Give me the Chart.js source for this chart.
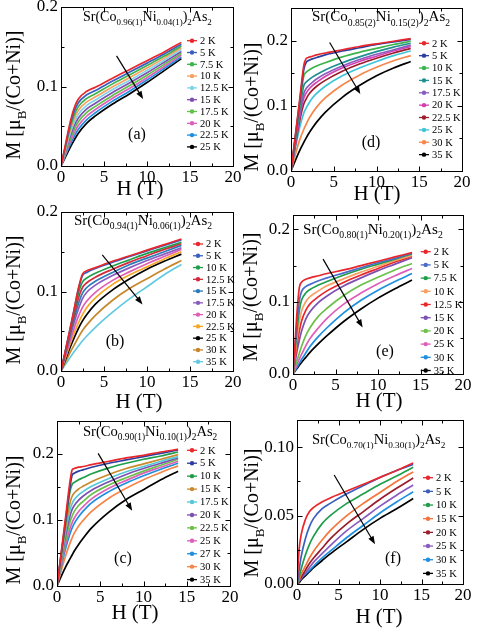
<!DOCTYPE html>
<html>
<head>
<meta charset="utf-8">
<style>
  body { margin: 0; background: #fff; }
  #fig { position: relative; width: 477px; height: 629px; overflow: hidden; }
  #fig canvas { position: absolute; }
</style>
</head>
<body>
<div id="fig">
  <canvas id="pa" width="250" height="205" style="left:0;top:0"></canvas>
  <canvas id="pb" width="250" height="210" style="left:0;top:205px"></canvas>
  <canvas id="pc" width="250" height="214" style="left:0;top:415px"></canvas>
  <canvas id="pd" width="239" height="205" style="left:238px;top:0"></canvas>
  <canvas id="pe" width="239" height="210" style="left:238px;top:205px"></canvas>
  <canvas id="pf" width="239" height="214" style="left:238px;top:415px"></canvas>
</div>

<script src="https://cdn.jsdelivr.net/npm/chart.js"></script>
<script>
// ---- data ----
const xTicks = [0, 5, 10, 15, 20];
const yTicks = [0, 0.1, 0.2];
const yTicksF = [0, 0.05, 0.10];

// (a) x = 0.04
const compA = ['0.96(1)', '0.04(1)'];
const tempsA = ['2 K', '5 K', '7.5 K', '10 K', '12.5 K', '15 K', '17.5 K', '20 K', '22.5 K', '25 K'];
const hA = [0, 0.5, 1, 1.5, 2, 3, 4, 6, 8, 10, 12, 14];
const mA = [
  [0, .026, .052, .072, .084, .094, .099, .1105, .1215, .1325, .1435, .1555],
  [0, .0243, .0487, .0676, .0792, .0896, .095, .1069, .1181, .1294, .1409, .1532],
  [0, .0227, .0453, .0631, .0744, .0851, .091, .1033, .1147, .1264, .1383, .1509],
  [0, .021, .042, .0587, .0697, .0807, .087, .0997, .1113, .1233, .1357, .1487],
  [0, .0193, .0387, .0542, .0649, .0762, .083, .0961, .1079, .1203, .1331, .1464],
  [0, .0177, .0353, .0498, .0601, .0718, .079, .0924, .1046, .1172, .1305, .1441],
  [0, .016, .032, .0453, .0553, .0673, .075, .0888, .1012, .1142, .1278, .1418],
  [0, .0143, .0287, .0409, .0505, .0629, .071, .0852, .0978, .1111, .1252, .1396],
  [0, .0127, .0253, .0364, .0458, .0584, .067, .0816, .0944, .1081, .1226, .1373],
  [0, .011, .022, .032, .041, .054, .063, .078, .091, .105, .120, .135]
];
const arrowA = [6.46, 0.1385, 9.55, 0.0842];

// (b) x = 0.06
const compB = ['0.94(1)', '0.06(1)'];
const tempsB = ['2 K', '5 K', '10 K', '12.5 K', '15 K', '17.5 K', '20 K', '22.5 K', '25 K', '30 K', '35 K'];
const hB = [0, 0.5, 1, 1.5, 2, 2.5, 3, 4, 6, 8, 10, 12, 14];
const mB = [
  [0, .025, .05, .076, .103, .122, .126, .130, .138, .145, .152, .159, .166],
  [0, .025, .05, .076, .102, .120, .124, .129, .137, .144, .151, .158, .165],
  [0, .024, .048, .073, .097, .112, .117, .123, .132, .140, .148, .155, .162],
  [0, .023, .046, .069, .091, .105, .111, .118, .128, .137, .145, .153, .160],
  [0, .022, .044, .065, .084, .098, .105, .113, .124, .134, .142, .150, .158],
  [0, .021, .041, .060, .077, .091, .099, .108, .120, .130, .139, .147, .155],
  [0, .018, .036, .053, .068, .080, .088, .099, .114, .125, .135, .144, .153],
  [0, .016, .032, .047, .060, .071, .080, .092, .109, .121, .131, .141, .150],
  [0, .014, .028, .041, .053, .063, .071, .084, .102, .116, .128, .138, .147],
  [0, .011, .022, .032, .042, .051, .058, .070, .089, .104, .116, .128, .139],
  [0, .008, .016, .024, .031, .038, .044, .055, .074, .091, .106, .121, .134]
];
const arrowB = [4.8, 0.146, 9.48, 0.0838];

// (c) x = 0.10
const compC = ['0.90(1)', '0.10(1)'];
const tempsC = ['2 K', '5 K', '10 K', '15 K', '17.5 K', '20 K', '22.5 K', '25 K', '27 K', '30 K', '35 K'];
const hC = [0, 0.5, 1, 1.5, 1.75, 2, 2.5, 3, 4, 6, 8, 10, 12, 14];
const mC = [
  [0, .052, .105, .158, .176, .178, .180, .181, .184, .189, .194, .198, .203, .207],
  [0, .050, .100, .150, .168, .171, .174, .176, .180, .186, .191, .196, .201, .206],
  [0, .048, .096, .143, .154, .157, .161, .164, .170, .179, .186, .192, .197, .203],
  [0, .045, .090, .126, .136, .141, .147, .151, .158, .169, .178, .185, .192, .199],
  [0, .042, .083, .115, .125, .131, .138, .143, .151, .163, .173, .181, .189, .196],
  [0, .039, .077, .106, .116, .122, .130, .136, .145, .158, .169, .178, .186, .194],
  [0, .036, .070, .097, .106, .113, .122, .128, .139, .153, .164, .174, .183, .192],
  [0, .033, .063, .087, .096, .103, .113, .120, .132, .148, .160, .171, .180, .189],
  [0, .030, .057, .079, .088, .095, .105, .113, .126, .143, .156, .167, .177, .186],
  [0, .024, .046, .065, .073, .080, .091, .099, .113, .133, .148, .161, .172, .182],
  [0, .015, .029, .041, .047, .053, .063, .072, .088, .112, .131, .146, .161, .174]
];
const arrowC = [4.75, 0.201, 8.69, 0.114];

// (d) x = 0.15
const compD = ['0.85(2)', '0.15(2)'];
const tempsD = ['2 K', '5 K', '10 K', '15 K', '17.5 K', '20 K', '22.5 K', '25 K', '30 K', '35 K'];
const hD = [0, 0.5, 1, 1.5, 1.75, 2, 2.5, 3, 4, 6, 8, 10, 12, 14];
const mD = [
  [0, .054, .108, .162, .172, .174, .176, .178, .181, .186, .191, .195, .199, .203],
  [0, .052, .104, .156, .166, .169, .172, .174, .178, .184, .189, .194, .198, .202],
  [0, .050, .100, .146, .151, .154, .158, .161, .166, .175, .182, .188, .194, .199],
  [0, .047, .094, .131, .136, .139, .144, .148, .155, .166, .175, .183, .190, .196],
  [0, .044, .087, .119, .126, .130, .136, .141, .149, .161, .171, .179, .186, .193],
  [0, .042, .082, .112, .119, .124, .131, .136, .145, .158, .168, .176, .184, .191],
  [0, .039, .076, .103, .110, .116, .124, .130, .139, .153, .164, .173, .181, .188],
  [0, .034, .066, .089, .096, .102, .112, .119, .130, .146, .158, .168, .177, .184],
  [0, .025, .047, .064, .071, .078, .089, .098, .112, .132, .147, .159, .169, .177],
  [0, .016, .031, .044, .050, .056, .066, .075, .090, .113, .131, .146, .158, .168]
];
const arrowD = [4.52, 0.197, 8.11, 0.118];

// (e) x = 0.20
const compE = ['0.80(1)', '0.20(1)'];
const tempsE = ['2 K', '5 K', '7.5 K', '10 K', '12.5 K', '15 K', '20 K', '25 K', '30 K', '35 K'];
const hE = [0, 0.25, 0.5, 0.75, 1, 1.5, 2, 3, 4, 6, 8, 10, 12, 14];
const mE = [
  [0, .045, .090, .120, .127, .131, .133, .136, .139, .144, .150, .156, .162, .168],
  [0, .038, .075, .102, .114, .121, .124, .129, .133, .140, .147, .154, .160, .167],
  [0, .033, .064, .088, .102, .112, .117, .123, .128, .137, .145, .152, .159, .166],
  [0, .027, .053, .073, .087, .100, .107, .115, .122, .132, .141, .149, .157, .164],
  [0, .022, .043, .060, .073, .088, .097, .107, .115, .127, .137, .146, .155, .163],
  [0, .017, .033, .047, .059, .076, .086, .099, .108, .122, .133, .143, .152, .161],
  [0, .010, .020, .029, .038, .053, .064, .080, .091, .109, .123, .134, .144, .153],
  [0, .007, .014, .021, .027, .039, .049, .064, .077, .097, .112, .125, .136, .146],
  [0, .005, .010, .015, .020, .029, .038, .052, .064, .085, .102, .116, .128, .139],
  [0, .004, .008, .012, .016, .023, .030, .042, .053, .073, .090, .105, .118, .130]
];
const arrowE = [3.54, 0.159, 8.19, 0.0645];

// (f) x = 0.30
const compF = ['0.70(1)', '0.30(1)'];
const tempsF = ['2 K', '5 K', '10 K', '15 K', '20 K', '25 K', '30 K', '35 K'];
const hF = [0, 0.25, 0.5, 1, 1.5, 2, 3, 4, 6, 8, 10, 12, 14];
const mF = [
  [0, .025, .036, .047, .053, .056, .060, .063, .068, .073, .078, .083, .0885],
  [0, .010, .020, .033, .042, .048, .055, .059, .066, .072, .078, .083, .0875],
  [0, .005, .011, .021, .029, .035, .044, .050, .059, .066, .073, .079, .0855],
  [0, .003, .007, .013, .019, .024, .032, .039, .050, .059, .067, .075, .082],
  [0, .003, .005, .010, .015, .019, .026, .033, .044, .053, .062, .070, .0775],
  [0, .002, .004, .008, .012, .016, .022, .028, .039, .048, .057, .065, .0725],
  [0, .002, .004, .007, .010, .013, .019, .024, .034, .043, .052, .060, .0675],
  [0, .001, .003, .006, .009, .012, .017, .022, .031, .040, .048, .055, .0625]
];
const arrowF = [4.48, 0.0798, 9.4, 0.0291];

// ---- styling ----
const SERIF = '"Liberation Serif", "Times New Roman", serif';
const colorsA = ['#e8262b', '#3a5fbf', '#3cb44b', '#f7a061', '#7fd3ea', '#7e4fb3', '#5fbf47', '#de5fb8', '#1e8ee0', '#000000'];
const colorsB = ['#e8262b', '#3a5fbf', '#1f9d4a', '#d22a3a', '#2a7bb8', '#8a5cc0', '#df5fb5', '#f6a623', '#000000', '#c8862a', '#62c9e3'];
const colorsC = ['#e8262b', '#2c3f9f', '#1f9d4a', '#c98a2b', '#55c8d8', '#7e4fb3', '#6cc04a', '#de5fb8', '#1e8ee0', '#f6864a', '#000000'];
const colorsD = ['#e8262b', '#2c3f9f', '#3cb44b', '#1f9090', '#8a5cc0', '#d83fb0', '#9b1c2c', '#3ec6d8', '#f6864a', '#000000'];
const colorsE = ['#e8262b', '#4a6cc8', '#1f9d4a', '#f7a061', '#e8262b', '#7e4fb3', '#6cc04a', '#de5fb8', '#1e8ee0', '#000000'];
const colorsF = ['#e8262b', '#3a5fbf', '#1f9d4a', '#f6743a', '#9b1c2c', '#8a5cc0', '#1e8ee0', '#000000'];

function drawRich(ctx, parts, x, y, size, subSize, align) {
  let w = 0;
  parts.forEach(p => {
    ctx.font = (p[1] ? subSize : size) + 'px ' + SERIF;
    w += ctx.measureText(p[0]).width;
  });
  let cx = align === 'center' ? x - w / 2 : x;
  parts.forEach(p => {
    ctx.font = (p[1] ? subSize : size) + 'px ' + SERIF;
    ctx.fillText(p[0], cx, y + (p[1] ? size * 0.3 : 0));
    cx += ctx.measureText(p[0]).width;
  });
}

const decor = {
  id: 'decor',
  afterDraw(chart, args, o) {
    const ctx = chart.ctx;
    const a = chart.chartArea;
    const xs = chart.scales.x, ys = chart.scales.y;
    const L = Math.round(a.left) + 0.5, R = Math.round(a.right) + 0.5;
    const T = Math.round(a.top) + 0.5, B = Math.round(a.bottom) + 0.5;
    ctx.save();
    ctx.strokeStyle = '#000';
    ctx.fillStyle = '#000';
    ctx.lineWidth = 1;
    ctx.strokeRect(L, T, R - L, B - T);

    // inward ticks on all four sides, minor ticks halfway
    ctx.beginPath();
    const xStep = xTicks[1] - xTicks[0];
    for (let v = xs.min; v <= xs.max + 1e-9; v += xStep / 2) {
      const major = Math.abs(v / xStep - Math.round(v / xStep)) < 1e-6;
      const len = major ? 5 : 3;
      const px = Math.round(xs.getPixelForValue(v)) + 0.5;
      ctx.moveTo(px, B); ctx.lineTo(px, B - len);
      ctx.moveTo(px, T); ctx.lineTo(px, T + len);
    }
    const yStep = o.yticks[1] - o.yticks[0];
    for (let v = 0; v <= ys.max + 1e-9; v += yStep / 2) {
      const major = Math.abs(v / yStep - Math.round(v / yStep)) < 1e-6;
      const len = major ? 5 : 3;
      const py = Math.round(ys.getPixelForValue(v)) + 0.5;
      ctx.moveTo(L, py); ctx.lineTo(L + len, py);
      ctx.moveTo(R, py); ctx.lineTo(R - len, py);
    }
    ctx.stroke();

    // arrow across the curves
    const ar = o.arrow;
    const x1 = xs.getPixelForValue(ar[0]), y1 = ys.getPixelForValue(ar[1]);
    const x2 = xs.getPixelForValue(ar[2]), y2 = ys.getPixelForValue(ar[3]);
    const ang = Math.atan2(y2 - y1, x2 - x1);
    const hl = 8, hw = 3;
    ctx.lineWidth = 1.2;
    ctx.beginPath();
    ctx.moveTo(x1, y1);
    ctx.lineTo(x2 - hl * Math.cos(ang) * 0.8, y2 - hl * Math.sin(ang) * 0.8);
    ctx.stroke();
    ctx.beginPath();
    ctx.moveTo(x2, y2);
    ctx.lineTo(x2 - hl * Math.cos(ang) + hw * Math.sin(ang), y2 - hl * Math.sin(ang) - hw * Math.cos(ang));
    ctx.lineTo(x2 - hl * Math.cos(ang) - hw * Math.sin(ang), y2 - hl * Math.sin(ang) + hw * Math.cos(ang));
    ctx.closePath();
    ctx.fill();

    // legend
    ctx.textBaseline = 'middle';
    ctx.textAlign = 'left';
    chart.data.datasets.forEach((ds, i) => {
      const y = o.leg[1] + i * o.leg[2];
      const x = o.leg[0];
      ctx.strokeStyle = ds.borderColor;
      ctx.fillStyle = ds.borderColor;
      ctx.lineWidth = 1.3;
      ctx.beginPath();
      ctx.moveTo(x, y); ctx.lineTo(x + 10, y);
      ctx.stroke();
      ctx.beginPath();
      ctx.arc(x + 5, y, 2.2, 0, Math.PI * 2);
      ctx.fill();
      ctx.fillStyle = '#000';
      ctx.font = '10.5px ' + SERIF;
      ctx.fillText(ds.label, x + 13, y + 0.5);
    });

    // compound formula
    ctx.fillStyle = '#000';
    ctx.textBaseline = 'alphabetic';
    drawRich(ctx, [['Sr(Co', 0], [o.comp[0], 1], ['Ni', 0], [o.comp[1], 1], [')', 0], ['2', 1], ['As', 0], ['2', 1]],
      o.formula[0], o.formula[1], o.formula[2], o.formula[2] * 0.64, 'left');

    // panel letter
    ctx.textAlign = 'center';
    ctx.textBaseline = 'middle';
    ctx.font = '16px ' + SERIF;
    ctx.fillText(o.letter, o.letterPos[0], o.letterPos[1]);

    // x axis title
    ctx.textBaseline = 'alphabetic';
    ctx.font = '21px ' + SERIF;
    ctx.fillText('H (T)', o.xlab[0], o.xlab[1]);

    // y axis title with subscript
    ctx.save();
    ctx.translate(o.ylab[0], o.ylab[1]);
    ctx.rotate(-Math.PI / 2);
    ctx.textAlign = 'left';
    drawRich(ctx, [['M [\u03bc', 0], ['B', 1], ['/(Co+Ni)]', 0]], 0, 7, 20, 13, 'center');
    ctx.restore();

    ctx.restore();
  }
};

function makePanel(id, h, m, temps, colors, opt) {
  const datasets = m.map((row, i) => ({
    label: temps[i],
    data: h.map((x, j) => ({ x: x, y: row[j] })),
    borderColor: colors[i],
    backgroundColor: colors[i],
    borderWidth: 1.7,
    pointRadius: 0,
    cubicInterpolationMode: 'monotone',
    fill: false
  }));
  const tickFont = { family: SERIF, size: 17 };
  new Chart(document.getElementById(id), {
    type: 'line',
    data: { datasets: datasets },
    options: {
      responsive: false,
      animation: false,
      layout: { padding: { top: opt.padTop, right: opt.padRight, bottom: 0, left: 0 } },
      plugins: { legend: { display: false }, tooltip: { enabled: false }, decor: opt },
      scales: {
        x: {
          type: 'linear', min: 0, max: 20,
          grid: { display: false, drawTicks: false },
          border: { display: false },
          afterBuildTicks: s => { s.ticks = xTicks.map(v => ({ value: v })); },
          afterFit: s => { s.height = opt.xh; s.paddingLeft = 0; s.paddingRight = 0; },
          ticks: { font: tickFont, color: '#000', padding: 1, maxRotation: 0, autoSkip: false,
                   callback: v => String(v) }
        },
        y: {
          type: 'linear', min: 0, max: opt.ymax,
          grid: { display: false, drawTicks: false },
          border: { display: false },
          afterBuildTicks: s => { s.ticks = opt.yticks.map(v => ({ value: v })); },
          afterFit: s => { s.width = opt.yw; s.paddingTop = 0; s.paddingBottom = 0; },
          ticks: { font: tickFont, color: '#000', padding: 3, autoSkip: false,
                   callback: v => v.toFixed(opt.dec) }
        }
      }
    },
    plugins: [decor]
  });
}

makePanel('pa', hA, mA, tempsA, colorsA, {
  yw: 61, padTop: 7, padRight: 17, xh: 39, ymax: 0.2, yticks: yTicks, dec: 1,
  comp: compA, formula: [83, 21, 14], leg: [187, 40.7, 11.8], letter: '(a)', letterPos: [137, 135],
  xlab: [140, 195], ylab: [13, 95], arrow: arrowA
});
makePanel('pb', hB, mB, tempsB, colorsB, {
  yw: 61, padTop: 7, padRight: 17, xh: 44, ymax: 0.2, yticks: yTicks, dec: 1,
  comp: compB, formula: [74, 19.5, 15], leg: [193, 39, 11.77], letter: '(b)', letterPos: [115, 137],
  xlab: [139, 203], ylab: [13, 95], arrow: arrowB
});
makePanel('pc', hC, mC, tempsC, colorsC, {
  yw: 57, padTop: 6, padRight: 20, xh: 43, ymax: 0.25, yticks: yTicks, dec: 1,
  comp: compC, formula: [83, 21, 14.6], leg: [187, 35.3, 12.93], letter: '(c)', letterPos: [123, 144],
  xlab: [135, 204], ylab: [13, 105], arrow: arrowC
});
makePanel('pd', hD, mD, tempsD, colorsD, {
  yw: 53, padTop: 8, padRight: 15, xh: 34, ymax: 0.25, yticks: yTicks, dec: 1,
  comp: compD, formula: [74, 21, 15], leg: [181, 43.3, 12.37], letter: '(d)', letterPos: [133, 143],
  xlab: [139, 200], ylab: [13, 107], arrow: arrowD
});
makePanel('pe', hE, mE, tempsE, colorsE, {
  yw: 55, padTop: 10, padRight: 14, xh: 41, ymax: 0.22, yticks: yTicks, dec: 1,
  comp: compE, formula: [65, 28.5, 15.2], leg: [182.7, 46.7, 13.2], letter: '(e)', letterPos: [147, 147],
  xlab: [141, 201.5], ylab: [12, 92], arrow: arrowE
});
makePanel('pf', hF, mF, tempsF, colorsF, {
  yw: 59, padTop: 5, padRight: 14, xh: 45, ymax: 0.12, yticks: yTicksF, dec: 2,
  comp: compF, formula: [74, 28.5, 14.5], leg: [185, 62.7, 13.67], letter: '(f)', letterPos: [155, 144],
  xlab: [141, 208], ylab: [13, 98], arrow: arrowF
});
</script>
</body>
</html>
